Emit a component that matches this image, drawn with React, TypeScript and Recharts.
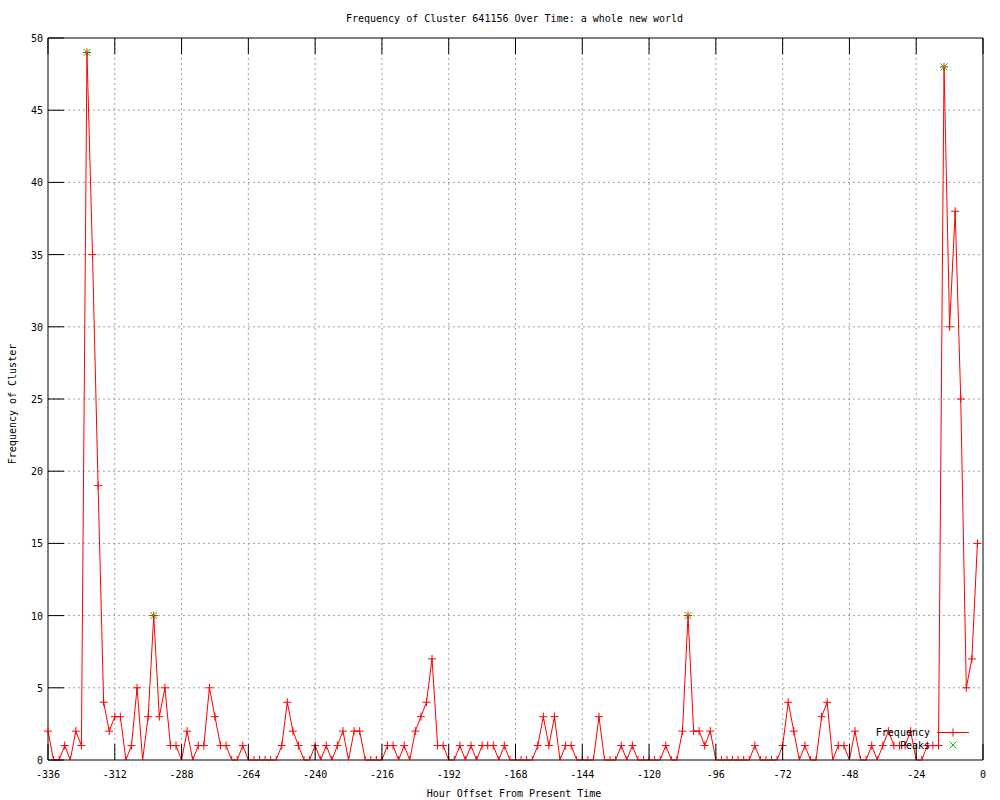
import React from 'react';
import { ComposedChart, Line, Scatter, XAxis, YAxis, CartesianGrid } from 'recharts';

// Hour offsets (2-hour bins)
const hours = [
  -336, -334, -332, -330, -328, -326, -324, -322, -320, -318, -316, -314,
  -312, -310, -308, -306, -304, -302, -300, -298, -296, -294, -292, -290,
  -288, -286, -284, -282, -280, -278, -276, -274, -272, -270, -268, -266,
  -264, -262, -260, -258, -256, -254, -252, -250, -248, -246, -244, -242,
  -240, -238, -236, -234, -232, -230, -228, -226, -224, -222, -220, -218,
  -216, -214, -212, -210, -208, -206, -204, -202, -200, -198, -196, -194,
  -192, -190, -188, -186, -184, -182, -180, -178, -176, -174, -172, -170,
  -168, -166, -164, -162, -160, -158, -156, -154, -152, -150, -148, -146,
  -144, -142, -140, -138, -136, -134, -132, -130, -128, -126, -124, -122,
  -120, -118, -116, -114, -112, -110, -108, -106, -104, -102, -100, -98,
  -96, -94, -92, -90, -88, -86, -84, -82, -80, -78, -76, -74,
  -72, -70, -68, -66, -64, -62, -60, -58, -56, -54, -52, -50,
  -48, -46, -44, -42, -40, -38, -36, -34, -32, -30, -28, -26,
  -24, -22, -20, -18, -16, -14, -12, -10, -8, -6, -4, -2,
];

// Frequency of cluster per bin
const frequency = [
  2, 0, 0, 1, 0, 2, 1, 49, 35, 19, 4, 2,
  3, 3, 0, 1, 5, 0, 3, 10, 3, 5, 1, 1,
  0, 2, 0, 1, 1, 5, 3, 1, 1, 0, 0, 1,
  0, 0, 0, 0, 0, 0, 1, 4, 2, 1, 0, 0,
  1, 0, 1, 0, 1, 2, 0, 2, 2, 0, 0, 0,
  0, 1, 1, 0, 1, 0, 2, 3, 4, 7, 1, 1,
  0, 0, 1, 0, 1, 0, 1, 1, 1, 0, 1, 0,
  0, 0, 0, 0, 1, 3, 1, 3, 0, 1, 1, 0,
  0, 0, 0, 3, 0, 0, 0, 1, 0, 1, 0, 0,
  0, 0, 0, 1, 0, 0, 2, 10, 2, 2, 1, 2,
  0, 0, 0, 0, 0, 0, 0, 1, 0, 0, 0, 0,
  1, 4, 2, 0, 1, 0, 0, 3, 4, 0, 1, 1,
  0, 2, 0, 0, 1, 0, 1, 2, 1, 1, 1, 2,
  0, 0, 1, 1, 1, 48, 30, 38, 25, 5, 7, 15,
];

// Peaks
const peakHours = [-322, -298, -106, -14];
const peakValues = [49, 10, 10, 48];

// Tick labels
const xTicks = [-336, -312, -288, -264, -240, -216, -192, -168, -144, -120, -96, -72, -48, -24, 0];
const yTicks = [0, 5, 10, 15, 20, 25, 30, 35, 40, 45, 50];
const xGrid = [-312, -288, -264, -240, -216, -192, -168, -144, -120, -96, -72, -48, -24];
const yGrid = [5, 10, 15, 20, 25, 30, 35, 40, 45];

const TITLE = 'Frequency of Cluster 641156 Over Time: a whole new world';
const X_LABEL = 'Hour Offset From Present Time';
const Y_LABEL = 'Frequency of Cluster';

const freqData = hours.map((h, i) => ({ hour: h, value: frequency[i] }));
const peakData = peakHours.map((h, i) => ({ hour: h, value: peakValues[i] }));

const FONT = '"DejaVu Sans Mono", monospace';
const RED = '#ff0000';
const GREEN = '#00c000';
const TICK_LEN = 16;

const BottomTick = (props: any) => {
  const { x, y, payload } = props;
  return (
    <g>
      <line x1={x} y1={y} x2={x} y2={y - TICK_LEN} stroke="#000" strokeWidth={1} />
      <text x={x} y={y + 18} textAnchor="middle" fontFamily={FONT} fontSize={10} fill="#000">
        {payload.value}
      </text>
    </g>
  );
};

const TopTick = (props: any) => {
  const { x, y } = props;
  return <line x1={x} y1={y} x2={x} y2={y + TICK_LEN} stroke="#000" strokeWidth={1} />;
};

const LeftTick = (props: any) => {
  const { x, y, payload } = props;
  return (
    <g>
      <line x1={x} y1={y} x2={x + TICK_LEN} y2={y} stroke="#000" strokeWidth={1} />
      <text x={x - 5} y={y + 4} textAnchor="end" fontFamily={FONT} fontSize={10} fill="#000">
        {payload.value}
      </text>
    </g>
  );
};

const RightTick = (props: any) => {
  const { x, y } = props;
  return <line x1={x} y1={y} x2={x - TICK_LEN} y2={y} stroke="#000" strokeWidth={1} />;
};

const PlusDot = (props: any) => {
  const { cx, cy, index, payload } = props;
  if (cx == null || cy == null) return <g key={`d${index}`} />;
  const d = payload && payload.value === 0
    ? `M${cx},${cy - 4}V${cy}`
    : `M${cx - 4},${cy}H${cx + 4}M${cx},${cy - 4}V${cy + 4}`;
  return <path key={`d${index}`} d={d} stroke={RED} strokeWidth={1} fill="none" />;
};

const CrossShape = (props: any) => {
  const { cx, cy } = props;
  const s = 3.5;
  return (
    <path
      d={`M${cx - s},${cy - s}L${cx + s},${cy + s}M${cx - s},${cy + s}L${cx + s},${cy - s}`}
      stroke={GREEN}
      strokeWidth={1}
      fill="none"
    />
  );
};

export default function App() {
  return (
    <div style={{ position: 'absolute', left: 0, top: 0, width: 1000, height: 800, background: '#fff' }}>
      <ComposedChart
        width={1000}
        height={800}
        data={freqData}
        margin={{ top: 37, right: 16, bottom: 0, left: 0 }}
      >
        <CartesianGrid
          xAxisId="bottom"
          yAxisId="left"
          stroke="#a0a0a0"
          strokeDasharray="2 3"
          verticalValues={xGrid}
          horizontalValues={yGrid}
        />
        <XAxis
          xAxisId="bottom"
          dataKey="hour"
          type="number"
          domain={[-336, 0]}
          ticks={xTicks}
          interval={0}
          height={40}
          tickSize={0}
          tickMargin={0}
          tickLine={false}
          axisLine={{ stroke: '#000' }}
          tick={<BottomTick />}
        />
        <XAxis
          xAxisId="top"
          orientation="top"
          dataKey="hour"
          type="number"
          domain={[-336, 0]}
          ticks={xTicks}
          interval={0}
          height={1}
          tickSize={0}
          tickMargin={0}
          tickLine={false}
          axisLine={{ stroke: '#000' }}
          tick={<TopTick />}
        />
        <YAxis
          yAxisId="left"
          type="number"
          domain={[0, 50]}
          ticks={yTicks}
          interval={0}
          width={48}
          tickSize={0}
          tickMargin={0}
          tickLine={false}
          axisLine={{ stroke: '#000' }}
          tick={<LeftTick />}
        />
        <YAxis
          yAxisId="right"
          orientation="right"
          type="number"
          domain={[0, 50]}
          ticks={yTicks}
          interval={0}
          width={1}
          tickSize={0}
          tickMargin={0}
          tickLine={false}
          axisLine={{ stroke: '#000' }}
          tick={<RightTick />}
        />
        <Line
          xAxisId="bottom"
          yAxisId="left"
          type="linear"
          dataKey="value"
          stroke={RED}
          strokeWidth={1}
          dot={PlusDot}
          activeDot={false}
          isAnimationActive={false}
        />
        <Scatter
          xAxisId="bottom"
          yAxisId="left"
          data={peakData}
          dataKey="value"
          shape={CrossShape}
          isAnimationActive={false}
        />
      </ComposedChart>
      <svg
        width={1000}
        height={800}
        style={{ position: 'absolute', left: 0, top: 0, pointerEvents: 'none' }}
      >
        <text x={514.5} y={22} textAnchor="middle" fontFamily={FONT} fontSize={10} fill="#000">
          {TITLE}
        </text>
        <text x={514} y={797} textAnchor="middle" fontFamily={FONT} fontSize={10} fill="#000">
          {X_LABEL}
        </text>
        <text
          transform="translate(16,404) rotate(-90)"
          textAnchor="middle"
          fontFamily={FONT}
          fontSize={10}
          fill="#000"
        >
          {Y_LABEL}
        </text>
        {/* legend */}
        <text x={930} y={736} textAnchor="end" fontFamily={FONT} fontSize={10} fill="#000">
          Frequency
        </text>
        <line x1={937} y1={732.5} x2={969} y2={732.5} stroke={RED} strokeWidth={1} />
        <path d="M949,732.5H957M953,728.5V736.5" stroke={RED} strokeWidth={1} fill="none" />
        <text x={930} y={749} textAnchor="end" fontFamily={FONT} fontSize={10} fill="#000">
          Peaks
        </text>
        <path d="M949.5,741.5L956.5,748.5M949.5,748.5L956.5,741.5" stroke={GREEN} strokeWidth={1} fill="none" />
      </svg>
    </div>
  );
}
